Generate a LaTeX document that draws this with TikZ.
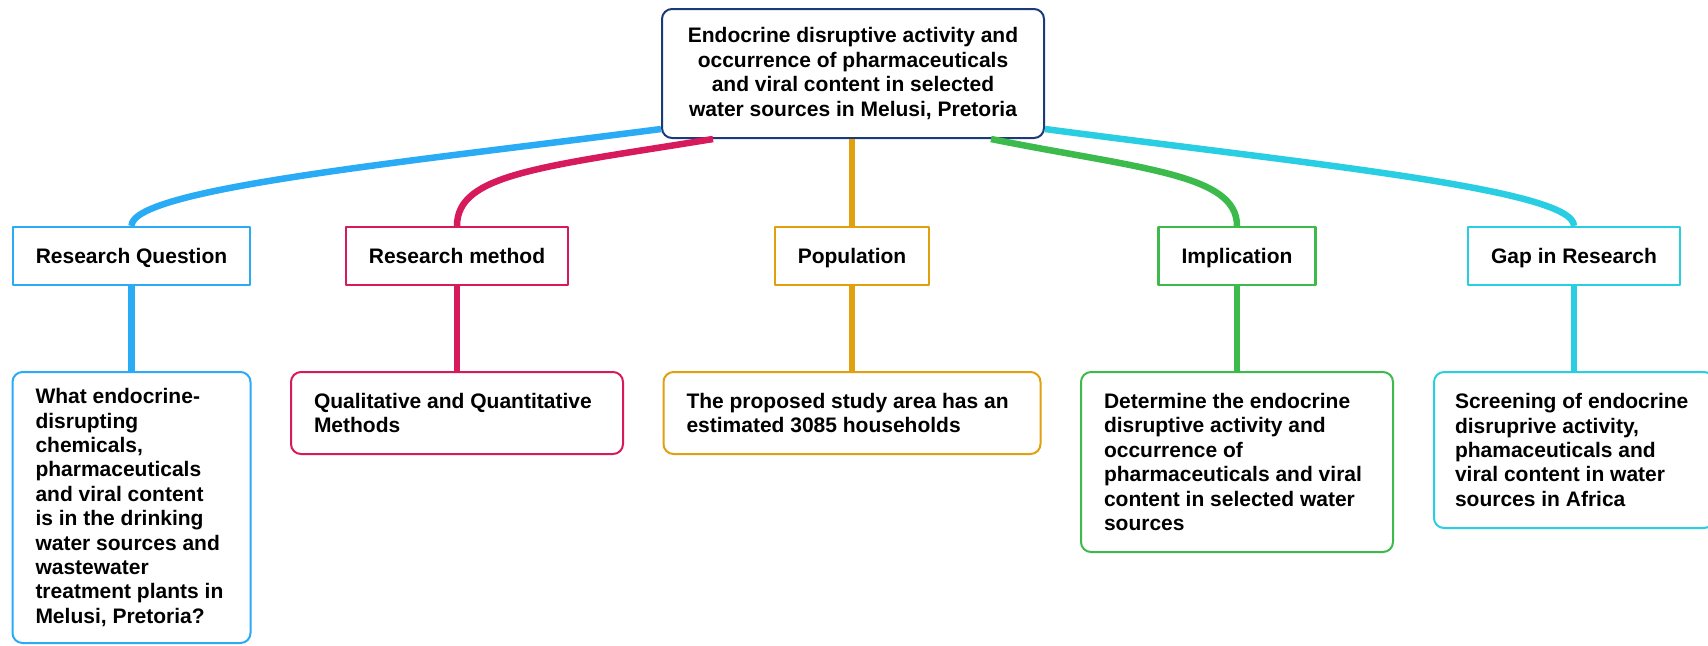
\documentclass[tikz,border=0pt]{standalone}
\usepackage{fontspec}
\setmainfont{Liberation Sans}

\definecolor{navy}{RGB}{26,58,122}
\definecolor{qblue}{RGB}{41,171,245}
\definecolor{qred}{RGB}{214,26,92}
\definecolor{qgold}{RGB}{224,160,16}
\definecolor{qgreen}{RGB}{60,186,76}
\definecolor{qcyan}{RGB}{42,206,226}

\begin{document}
\begin{tikzpicture}[
    % one unit = one pixel of the reference, y grows downwards
    x=0.5pt, y=-0.5pt,
    line join=round,
    txt/.style={font=\bfseries\fontsize{10.5}{12.2}\selectfont},
    topic/.style={txt, draw=navy, line width=1pt, rounded corners=5pt, fill=white,
        align=center, minimum width=191pt, minimum height=64.5pt, inner sep=0pt},
    branch/.style={txt, draw=#1, line width=1.1pt, fill=white, text height=9pt, text depth=2pt,
        minimum height=29pt, inner xsep=11.5pt, inner ysep=0pt},
    leaf/.style={txt, draw=#1, line width=1pt, rounded corners=5pt, fill=white,
        align=flush left, inner xsep=11.5pt, inner ysep=0pt},
    link/.style={draw=#1, line width=3.25pt},
]

\useasboundingbox (0,0) rectangle (1708,645);

% ---- root ----
\node[topic] (root) at (853,73.5)
    {Endocrine disruptive activity and\\occurrence of pharmaceuticals\\and viral content in selected\\water sources in Melusi, Pretoria};

% ---- branches ----
\node[branch=qblue]  (rq)  at (131.5,256) {Research Question};
\node[branch=qred]   (rm)  at (457,256)   {Research method};
\node[branch=qgold]  (pop) at (852,256)   {Population};
\node[branch=qgreen] (imp) at (1237,256)  {Implication};
\node[branch=qcyan]  (gap) at (1574,256)  {Gap in Research};

% ---- leaves ----
\node[leaf=qblue, minimum width=119pt, text width=96pt, minimum height=135.5pt] (rqL) at (131.5,507.5)
    {What endocrine-\\disrupting\\chemicals,\\pharmaceuticals\\and viral content\\is in the drinking\\water sources and\\wastewater\\treatment plants in\\Melusi, Pretoria?};
\node[leaf=qred, minimum width=166pt, text width=143pt, minimum height=41pt] (rmL) at (457,413)
    {Qualitative and Quantitative\\Methods};
\node[leaf=qgold, minimum width=188.5pt, text width=165.5pt, minimum height=41pt] (popL) at (852,413)
    {The proposed study area has an\\estimated 3085 households};
\node[leaf=qgreen, minimum width=156pt, text width=133pt, minimum height=90pt] (impL) at (1237,462)
    {Determine the endocrine\\disruptive activity and\\occurrence of\\pharmaceuticals and viral\\content in selected water\\sources};
\node[leaf=qcyan, inner xsep=10.5pt, minimum width=140pt, text width=119pt, minimum height=78pt] (gapL) at (1574,450)
    {Screening of endocrine\\disruprive activity,\\phamaceuticals and\\viral content in water\\sources in Africa};

% ---- root to branches ----
\draw[link=qblue] ([yshift=5pt]root.south west) .. controls +(-262,34) and +(0,-37) .. (rq.north);
\draw[link=qred] ([xshift=-70pt]root.south) .. controls +(-172,28) and +(0,-52) .. (rm.north);
\draw[link=qgold] (root.south -| pop.north) -- (pop.north);
\draw[link=qgreen] ([xshift=69pt]root.south) .. controls +(150,30) and +(0,-52) .. (imp.north);
\draw[link=qcyan] ([yshift=5pt]root.south east) .. controls +(256,34) and +(0,-37) .. (gap.north);

% ---- branches to leaves ----
\draw[link=qblue]  (rq.south)  -- (rqL.north);
\draw[link=qred]   (rm.south)  -- (rmL.north);
\draw[link=qgold]  (pop.south) -- (popL.north);
\draw[link=qgreen] (imp.south) -- (impL.north);
\draw[link=qcyan]  (gap.south) -- (gapL.north);

\end{tikzpicture}
\end{document}
